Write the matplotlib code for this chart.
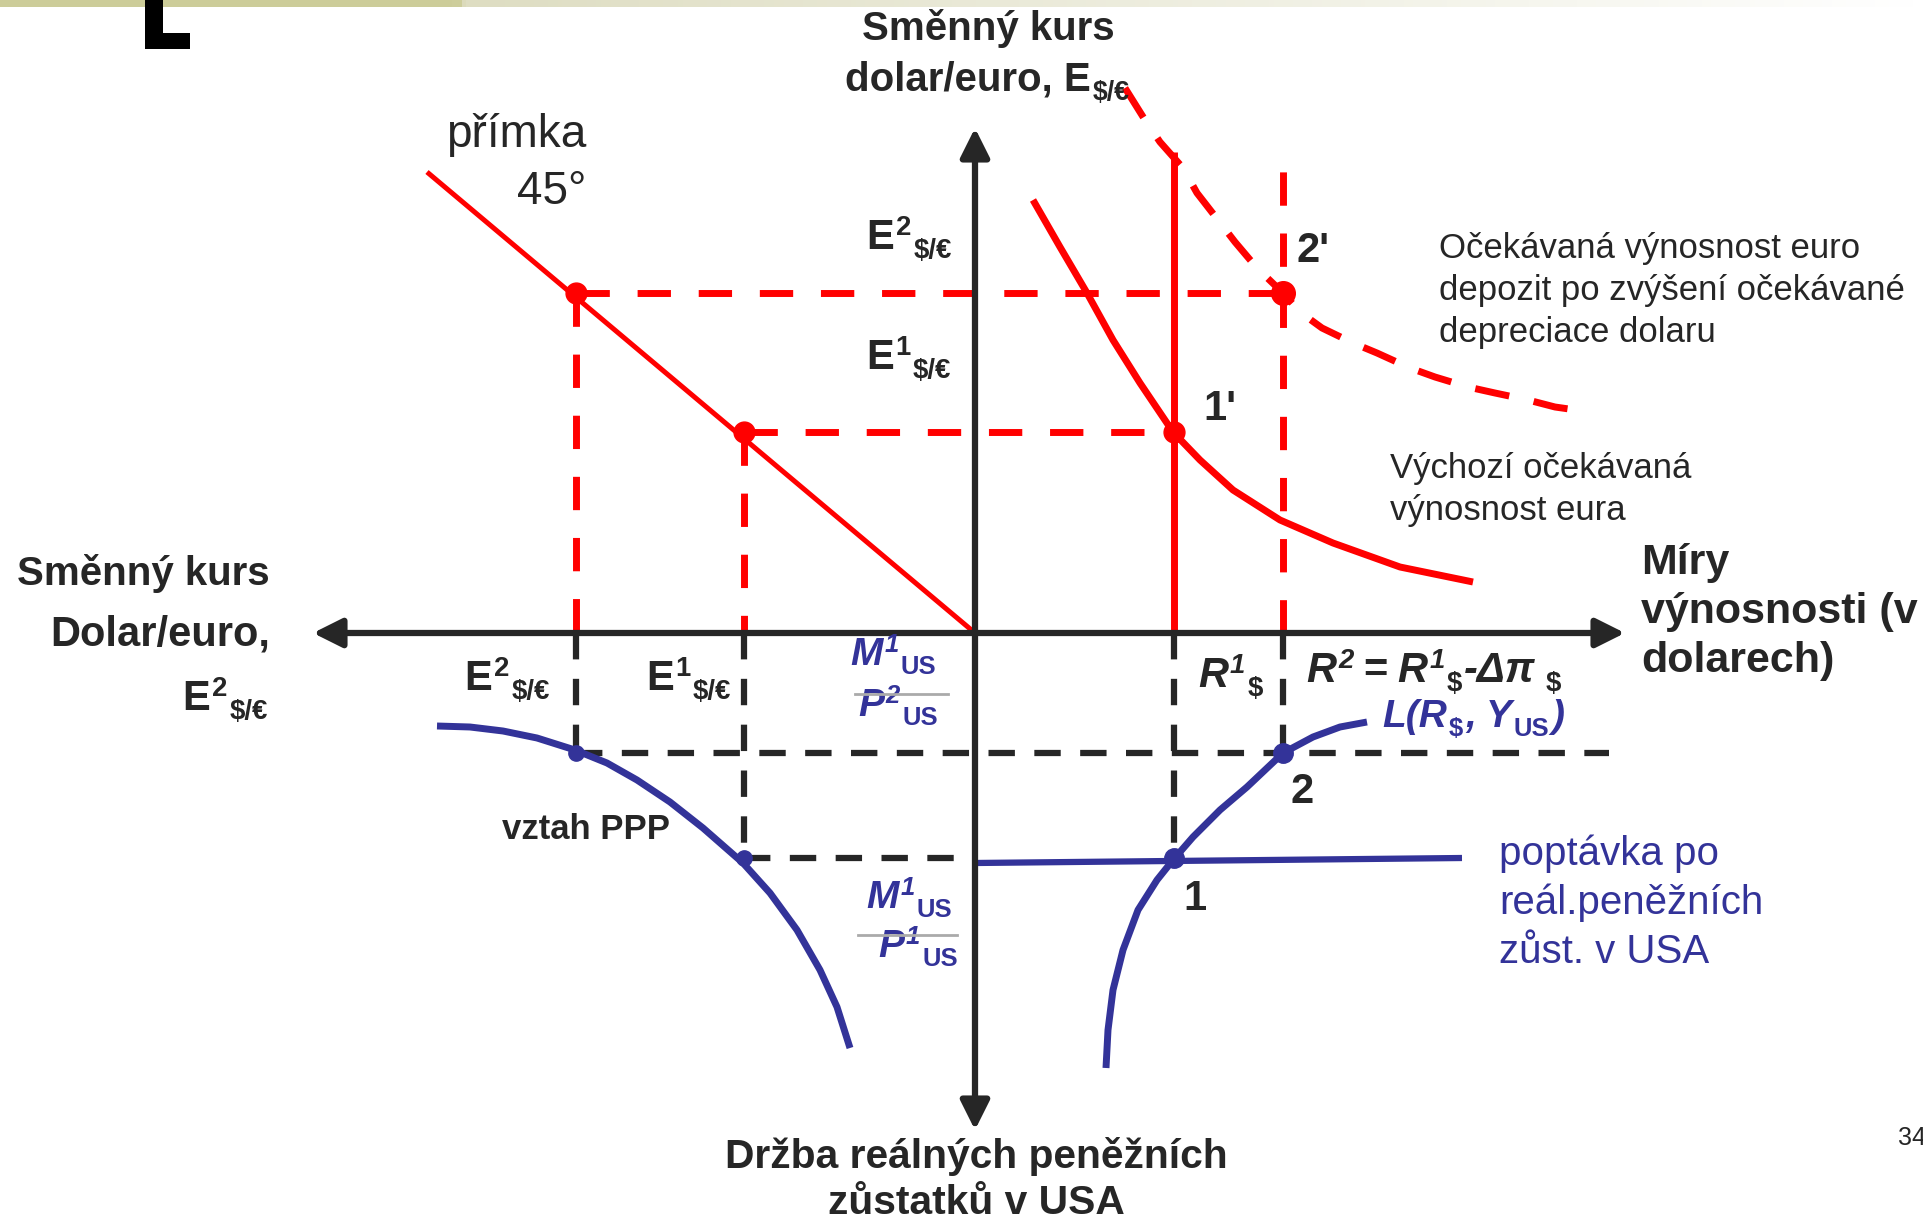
"""Exchange rate, money and expected depreciation: four-quadrant diagram."""

import numpy as np
import matplotlib
matplotlib.use("Agg")
import matplotlib.pyplot as plt
from matplotlib.colors import LinearSegmentedColormap

plt.rcParams["font.family"] = ["Liberation Sans", "DejaVu Sans"]
plt.rcParams["lines.scale_dashes"] = False

RED = "#ff0000"
BLUE = "#333399"
INK = "#262626"

# ── data (origin = crossing of the axes, 1 unit = 100 px) ────────────────────
R1, R2 = 1.99, 3.08                 # dollar rates of return
E1, E2 = 2.01, 3.40                 # exchange rate levels (vertical axis)
E1_LEFT, E2_LEFT = -2.31, -3.99     # same levels on the left axis
MP2, MP1 = -1.20, -2.25             # real money supply M/P levels

line45_x = [-5.48, 0.0]
line45_y = [4.61, 0.0]

euro_ret_x = [0.58, 0.85, 1.12, 1.38, 1.65, 1.98, 2.25, 2.58, 3.05, 3.58, 4.25, 4.98]
euro_ret_y = [4.33, 3.86, 3.40, 2.93, 2.50, 2.01, 1.73, 1.43, 1.13, 0.90, 0.66, 0.51]

euro_ret2_x = [1.50, 1.70, 1.85, 2.08, 2.22, 2.43, 2.60, 2.82, 3.08, 3.25, 3.47,
               3.78, 4.02, 4.35, 4.60, 4.93, 5.20, 5.53, 5.80, 6.15]
euro_ret2_y = [5.45, 5.13, 4.91, 4.65, 4.40, 4.13, 3.91, 3.65, 3.40, 3.21, 3.05,
               2.90, 2.80, 2.65, 2.56, 2.46, 2.40, 2.33, 2.26, 2.21]

ppp_x = [-5.38, -5.05, -4.72, -4.38, -4.00, -3.68, -3.38, -3.05, -2.72, -2.32,
         -2.05, -1.78, -1.55, -1.38, -1.25]
ppp_y = [-0.93, -0.94, -0.98, -1.05, -1.17, -1.30, -1.47, -1.69, -1.95, -2.30,
         -2.60, -2.97, -3.37, -3.74, -4.15]

money_dem_x = [1.31, 1.33, 1.38, 1.48, 1.63, 1.82, 1.98, 2.18, 2.45, 2.72, 3.08,
               3.38, 3.65, 3.92]
money_dem_y = [-4.35, -3.97, -3.57, -3.17, -2.77, -2.47, -2.27, -2.04, -1.77, -1.54,
               -1.20, -1.04, -0.94, -0.89]

supply_x = [0.0, 4.87]
supply_y = [-2.30, -2.25]

x_axis = [-6.62, 6.50]
y_axis = [-4.97, 5.05]

fig = plt.figure(figsize=(19.23, 12.2), dpi=100)
ax = fig.add_axes([0, 0, 1, 1])
ax.set_xlim(-9.75, 9.48)
ax.set_ylim(-5.87, 6.33)
ax.axis("off")
renderer = fig.canvas.get_renderer()
PX = 0.01  # data units per pixel

# slide decoration at the top
strip = LinearSegmentedColormap.from_list(
    "strip", [(0, "#cccc99"), (0.235, "#cccc99"), (0.24, "#deddc2"), (0.8, "#f6f6ee"), (1, "#ffffff")])
ax.imshow(np.linspace(0, 1, 400)[None, :], cmap=strip, aspect="auto",
          extent=(-9.75, 9.48, 6.26, 6.33), zorder=0)
ax.fill([-8.30, -8.12, -8.12, -8.30], [5.84, 5.84, 6.33, 6.33], color="black", lw=0)
ax.fill([-8.30, -7.85, -7.85, -8.30], [5.84, 5.84, 6.00, 6.00], color="black", lw=0)

RED_DASH = (24, 20)
CURVE_DASH = (25, 18)
INK_DASH = (19, 14)


def dashed(xs, ys, color, dash, lw=5, z=2):
    ax.plot(xs, ys, color=color, lw=lw, dashes=dash, dash_capstyle="butt", zorder=z)


# ── red guide lines (upper half) ─────────────────────────────────────────────
dashed([E2_LEFT, R2], [E2, E2], RED, RED_DASH)
dashed([E1_LEFT, R1], [E1, E1], RED, RED_DASH)
dashed([E2_LEFT, E2_LEFT], [E2, 0], RED, RED_DASH)
dashed([E1_LEFT, E1_LEFT], [E1, 0], RED, RED_DASH)
dashed([R2, R2], [0, 4.73], RED, RED_DASH)
ax.plot([R1, R1], [0, 4.81], color=RED, lw=5, solid_capstyle="butt", zorder=2)

# ── black guide lines (lower half) ───────────────────────────────────────────
dashed([E2_LEFT, E2_LEFT], [0, MP2], INK, INK_DASH, lw=4.5)
dashed([E1_LEFT, E1_LEFT], [0, MP1], INK, INK_DASH, lw=4.5)
dashed([R1, R1], [0, MP1], INK, INK_DASH, lw=4.5)
dashed([R2, R2], [0, MP2], INK, INK_DASH, lw=4.5)
dashed([E2_LEFT, 6.34], [MP2, MP2], INK, INK_DASH, lw=4.5)
dashed([E1_LEFT, 0], [MP1, MP1], INK, INK_DASH, lw=4.5)

# ── curves ───────────────────────────────────────────────────────────────────
curve = dict(solid_joinstyle="round", solid_capstyle="butt", zorder=3)
ax.plot(line45_x, line45_y, color=RED, lw=3.6, **curve)
ax.plot(euro_ret_x, euro_ret_y, color=RED, lw=5, **curve)
dashed(euro_ret2_x, euro_ret2_y, RED, CURVE_DASH, z=3)
ax.plot(ppp_x, ppp_y, color=BLUE, lw=5, **curve)
ax.plot(money_dem_x, money_dem_y, color=BLUE, lw=5, **curve)
ax.plot(supply_x, supply_y, color=BLUE, lw=4.5, **curve)

# ── axes with arrow heads ────────────────────────────────────────────────────
arrow = dict(arrowstyle="<|-|>,head_length=1.6,head_width=0.8", lw=4.5,
             color=INK, shrinkA=0, shrinkB=0, mutation_scale=11)
ax.annotate("", xy=(x_axis[1], 0), xytext=(x_axis[0], 0), arrowprops=arrow, zorder=4)
ax.annotate("", xy=(0, y_axis[1]), xytext=(0, y_axis[0]), arrowprops=arrow, zorder=4)

# ── equilibrium points ───────────────────────────────────────────────────────
ax.plot([E2_LEFT, E1_LEFT, R1], [E2, E1, E1], "o", color=RED, ms=15, zorder=5)
ax.plot([R2], [E2], "o", color=RED, ms=17, zorder=5)
ax.plot([E2_LEFT, E1_LEFT], [MP2, MP1], "o", color=BLUE, ms=11, zorder=5)
ax.plot([R1, R2], [MP1, MP2], "o", color=BLUE, ms=14, zorder=5)


def label(x, y, s, size, color=INK, ha="left", **kw):
    ax.text(x, y, s, size=size, color=color, ha=ha, va="baseline", zorder=6, **kw)


SCRIPT, RAISE, DROP = 0.66, 0.34, -0.22


def rich(x, y, parts, size, color=INK, ha="left", style="normal"):
    """Lay out pieces left to right; level 1 = superscript, -1 = subscript.
    A bare number in parts is an extra gap in pixels."""
    placed, cursor = [], 0.0
    for part in parts:
        if isinstance(part, (int, float)):
            cursor += part * PX
            continue
        s, level = part[0], part[1]
        st = part[2] if len(part) > 2 else style
        fs = size if level == 0 else size * SCRIPT
        t = ax.text(0, 0, s, size=fs, color=color, weight="bold", style=st,
                    va="baseline", zorder=6)
        w = t.get_window_extent(renderer).width * PX
        dy = {0: 0.0, 1: RAISE, -1: DROP}[level] * size / 72
        placed.append((t, cursor, dy))
        cursor += w + 2 * PX
    shift = {"left": 0.0, "center": cursor / 2, "right": cursor}[ha]
    for t, cx, dy in placed:
        t.set_position((x + cx - shift, y + dy))


def e_rate(n):
    return [("E", 0), (n, 1), ("$/€", -1)]


# top axis title
label(0.135, 5.925, "Směnný kurs", 29, ha="center", weight="bold")
rich(0.135, 5.42, [("dolar/euro, E", 0), ("$/€", -1)], 29, ha="center")

label(-3.89, 4.86, "přímka", 33, ha="right")
label(-3.89, 4.29, "45°", 33, ha="right")

rich(-1.09, 3.84, e_rate("2"), 30)
rich(-1.09, 2.64, e_rate("1"), 30)
label(3.22, 3.71, "2'", 30, weight="bold")
label(2.28, 2.13, "1'", 30, weight="bold")

for yy, s in zip([3.75, 3.33, 2.91], ["Očekávaná výnosnost euro",
                                        "depozit po zvýšení očekávané",
                                        "depreciace dolaru"]):
    label(4.64, yy, s, 25)
for yy, s in zip([1.55, 1.13], ["Výchozí očekávaná", "výnosnost eura"]):
    label(4.15, yy, s, 25)
for yy, s in zip([0.59, 0.10, -0.39], ["Míry", "výnosnosti (v", "dolarech)"]):
    label(6.66, yy, s, 31, weight="bold")

# left axis title
label(-7.05, 0.48, "Směnný kurs", 29, ha="right", weight="bold")
label(-7.05, -0.13, "Dolar/euro,", 30, ha="right", weight="bold")
rich(-7.05, -0.77, e_rate("2"), 30, ha="right")

rich(-5.11, -0.57, e_rate("2"), 30)
rich(-3.29, -0.57, e_rate("1"), 30)

# real money supply fractions
rich(-1.25, -0.32, [("M", 0, "italic"), ("1", 1, "italic"), ("US", -1)], 28, color=BLUE)
rich(-1.17, -0.83, [("P", 0, "italic"), ("2", 1, "italic"), ("US", -1)], 28, color=BLUE)
ax.plot([-1.20, -0.27], [-0.61, -0.61], color="#aaaaaa", lw=2, zorder=7)
rich(-1.09, -2.75, [("M", 0, "italic"), ("1", 1, "italic"), ("US", -1)], 28, color=BLUE)
rich(-0.97, -3.24, [("P", 0, "italic"), ("1", 1, "italic"), ("US", -1)], 28, color=BLUE)
ax.plot([-1.17, -0.18], [-3.02, -3.02], color="#aaaaaa", lw=2, zorder=7)

label(-3.89, -2.06, "vztah PPP", 25, ha="center", weight="bold")

rich(2.23, -0.54, [("R", 0, "italic"), ("1", 1, "italic"), ("$", -1)], 30)
rich(3.31, -0.49, [("R", 0, "italic"), ("2", 1, "italic"), 8, ("=", 0), 8,
                   ("R", 0, "italic"), ("1", 1, "italic"), ("$", -1),
                   ("-Δπ", 0, "italic"), 8, ("$", -1)], 30)
rich(4.07, -0.94, [("L(R", 0, "italic"), ("$", -1), (",", 0, "italic"), 8,
                   ("Y", 0, "italic"), ("US", -1), (")", 0, "italic")], 28, color=BLUE)
label(3.15, -1.70, "2", 30, weight="bold")
label(2.08, -2.77, "1", 30, weight="bold")

for yy, s in zip([-2.32, -2.81, -3.30], ["poptávka po", "reál.peněžních", "zůst. v USA"]):
    label(5.24, yy, s, 29, color=BLUE)

# bottom axis title
label(0.01, -5.35, "Držba reálných peněžních", 29.3, ha="center", weight="bold")
label(0.01, -5.81, "zůstatků v USA", 29.3, ha="center", weight="bold")

ax.text(9.23, -5.05, "34", size=18, color=INK, va="center")

fig.savefig("out.png", dpi=100)
